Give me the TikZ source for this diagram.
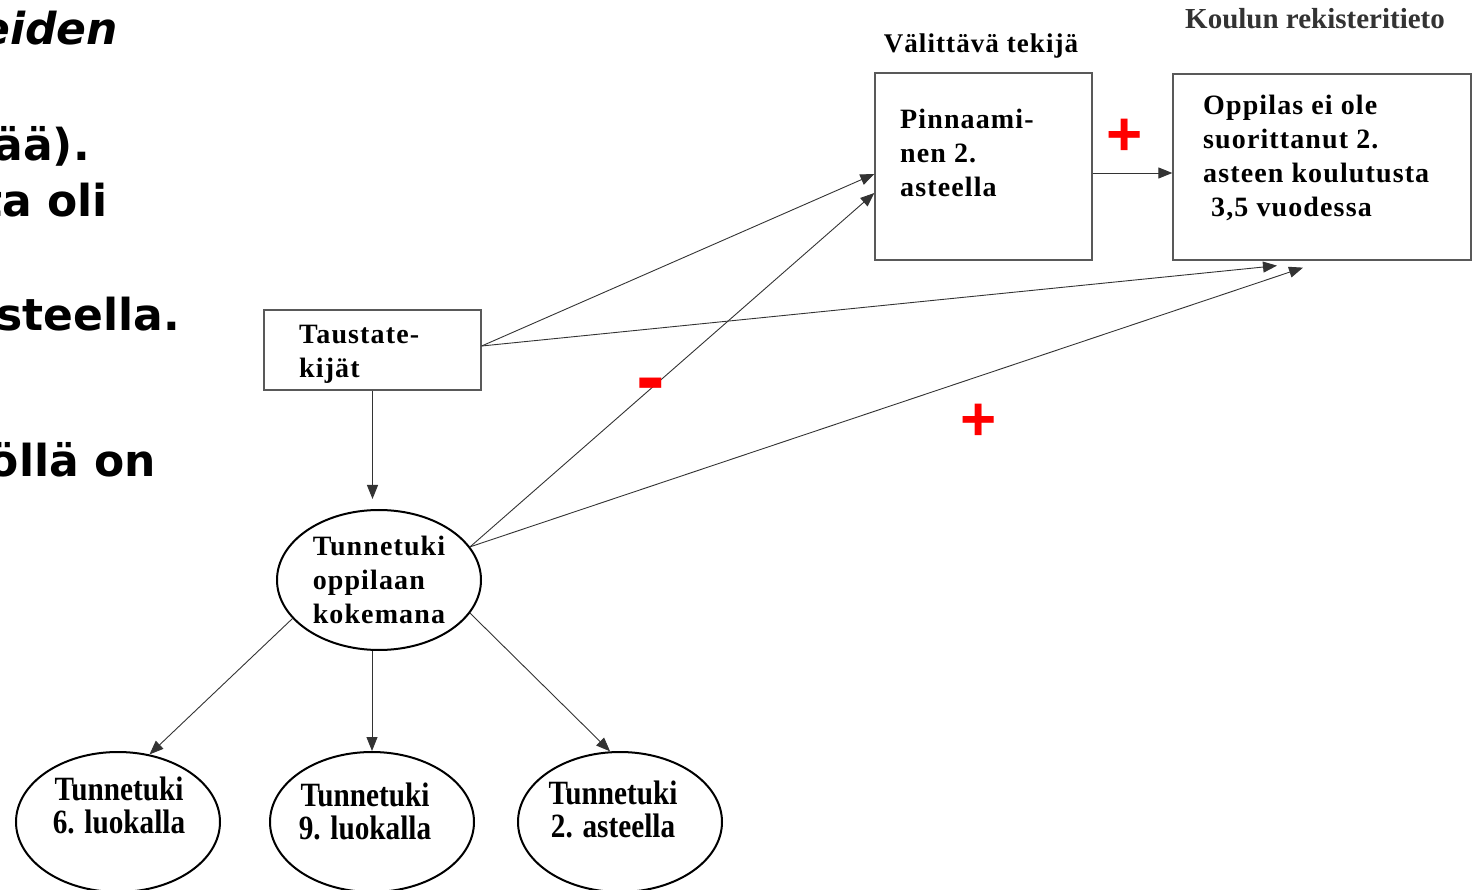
\documentclass[tikz,border=0pt]{standalone}
\usepackage{fontspec}
\setmainfont{Liberation Serif}
\newfontfamily\diafont[LetterSpace=4]{Liberation Serif}
\newfontfamily\ovalfont[FakeStretch=0.86]{Liberation Serif}
\newfontfamily\slidefont{DejaVu Sans}
\newfontfamily\signfont{Liberation Sans}
\usepackage{tikz}
\usetikzlibrary{arrows.meta,shapes.geometric}
\tikzstyle{block} = [rectangle, draw=black!65, line width=1.3pt, inner sep=0pt]
\tikzstyle{oval} = [ellipse, draw, line width=2pt, minimum width=204pt, minimum height=140pt, inner sep=0pt]
\tikzstyle{boxtext} = [align=left, inner sep=0pt, anchor=north west, font=\diafont\bfseries\fontsize{28}{34}\selectfont]
\tikzstyle{ovaltext} = [align=center, inner sep=0pt, font=\ovalfont\bfseries\fontsize{34}{33}\selectfont]
\tikzstyle{slide} = [inner sep=0pt, anchor=base east, font=\slidefont\bfseries\fontsize{44}{52}\selectfont]
\tikzstyle{sign} = [red, inner sep=0pt, anchor=base]
\tikzset{edge/.style = {
    draw=black!80, line width=0.9pt,
    -{Triangle[length=14pt,width=11pt]},
  }
}

\begin{document}
\begin{tikzpicture}[x=1pt, y=-1pt]
  \useasboundingbox (0,0) rectangle (1476,890);

  % slide text behind the figure
  \node[slide, font=\slidefont\bfseries\itshape\fontsize{44}{52}\selectfont] (s1) at (118,45) {eiden};
  \node[slide] (s2) at (90,161) {ää).};
  \node[slide] (s3) at (108,217) {ta oli};
  \node[slide] (s4) at (180,331) {steella.};
  \node[slide] (s5) at (156,477) {öllä on};

  % headings
  \node[anchor=base, inner sep=0pt, font=\diafont\bfseries\fontsize{27}{30}\selectfont] (mediator) at (981,53) {Välittävä tekijä};
  \node[anchor=base, inner sep=0pt, text=black!80, font=\bfseries\fontsize{29}{30}\selectfont] (register) at (1315,29) {Koulun rekisteritieto};

  % vertices
  \node[block, minimum width=217pt, minimum height=187pt] (pin) at (983.5,166.5) {};
  \node[block, minimum width=298pt, minimum height=186pt] (opp) at (1322,167) {};
  \node[block, minimum width=217pt, minimum height=80pt] (taus) at (372.5,350) {};
  \node[boxtext] (pintext) at (900,109) {Pinnaami-\\nen 2.\\asteella};
  \node[boxtext] (opptext) at (1203,95) {Oppilas ei ole\\suorittanut 2.\\asteen koulutusta\\\hspace*{8pt}3,5 vuodessa};
  \node[boxtext] (taustext) at (299,325) {Taustate-\\kijät};

  \node[oval, align=left, font=\diafont\bfseries\fontsize{28}{34}\selectfont] (tun) at (379,580) {Tunnetuki\\oppilaan\\kokemana};
  \node[oval] (t6) at (118,822) {};
  \node[oval] (t9) at (372,822) {};
  \node[oval] (t2) at (620,822) {};
  \node[ovaltext] (t6text) at (119,805) {Tunnetuki\\6. luokalla};
  \node[ovaltext] (t9text) at (365,811) {Tunnetuki\\9. luokalla};
  \node[ovaltext] (t2text) at (613,809) {Tunnetuki\\2. asteella};

  % edges
  \draw[edge] ([yshift=4pt]taus.east) to ([yshift=-7.5pt]pin.west);
  \draw[edge] ([yshift=4pt]taus.east) to ([xshift=-45pt,yshift=-5pt]opp.south);
  \draw[edge] (tun.20) to ([yshift=-26.5pt]pin.west);
  \draw[edge] (tun.20) to ([xshift=-19pt,yshift=-7pt]opp.south);
  \draw[edge] ([yshift=-6.5pt]pin.east) to ([yshift=-6pt]opp.west);
  \draw[edge, shorten >=10pt] (taus.south) to (taus.south |- tun.north);
  \draw[edge] (tun.204) to (t6.65);
  \draw[edge] (tun.south -| t9.north) to (t9.north);
  \draw[edge] (tun.340) to (t2.98);

  % signs
  \node[sign, font=\signfont\bfseries\fontsize{62}{62}\selectfont] (plusa) at (1125,156) {+};
  \node[sign, font=\signfont\bfseries\fontsize{62}{62}\selectfont] (plusb) at (979,441) {+};
  \node[sign, font=\signfont\bfseries\fontsize{86}{86}\selectfont] (minus) at (651,406) {-};
\end{tikzpicture}
\end{document}
